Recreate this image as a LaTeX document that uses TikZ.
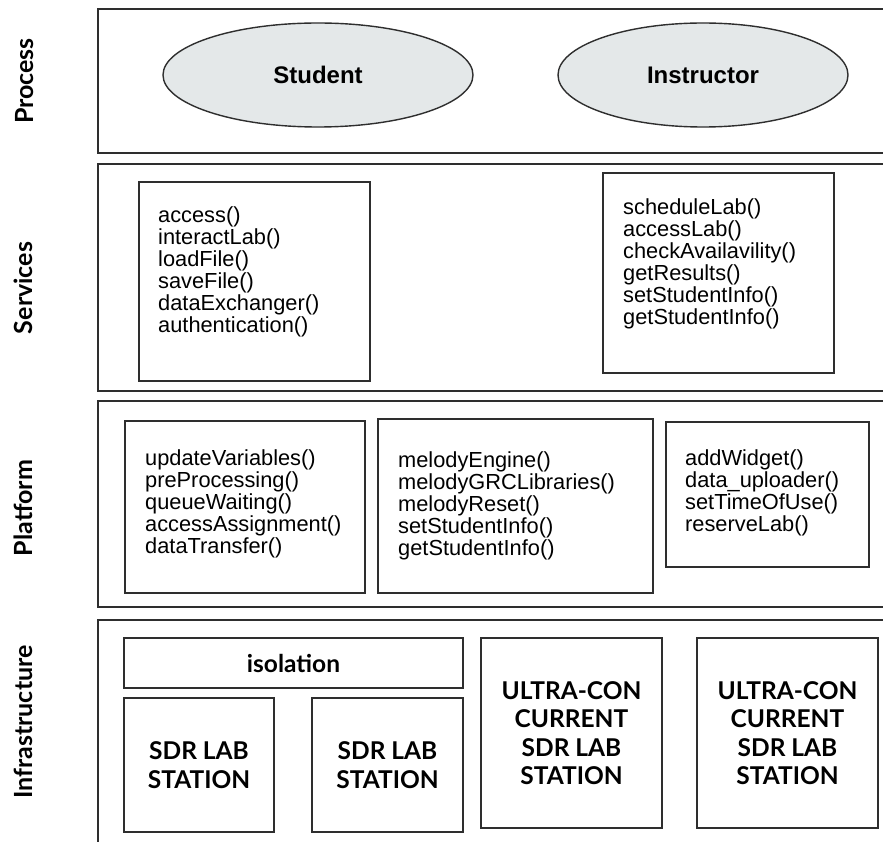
\documentclass[tikz,border=0pt]{standalone}
\usepackage{fontspec}
\setmainfont{Liberation Sans}
\newfontfamily\latofont{Lato}
\usetikzlibrary{shapes.geometric}
\definecolor{edge}{HTML}{2E2E2E}
\definecolor{actorfill}{HTML}{E4E8E9}
\tikzset{
  panel/.style={draw=edge, line width=1.8pt, inner sep=0pt, anchor=north west},
  box/.style={draw=edge, line width=1.6pt, inner sep=0pt, anchor=north west},
  actor/.style={ellipse, draw=edge, line width=1.4pt, fill=actorfill, inner sep=0pt,
    font=\fontsize{24}{26}\selectfont\bfseries},
  methods/.style={anchor=north west, inner sep=0pt, align=left,
    font=\fontsize{21.8}{22}\selectfont},
  layer/.style={rotate=90, anchor=base, inner sep=0pt,
    font=\latofont\fontsize{25}{28}\selectfont\bfseries},
  station/.style={draw=edge, line width=1.6pt, inner sep=0pt, align=center,
    font=\latofont\fontsize{24.5}{28.5}\selectfont\bfseries},
}
\begin{document}
\begin{tikzpicture}[x=1pt, y=-1pt]
\useasboundingbox (0,0) rectangle (883,842);
\fill[white] (0,0) rectangle (883,842);

% layer panels (open to the right and bottom)
\node[panel, minimum width=803, minimum height=144] (processPanel) at (97,8) {};
\node[panel, minimum width=803, minimum height=227] (servicesPanel) at (97,163) {};
\node[panel, minimum width=803, minimum height=206] (platformPanel) at (97,400) {};
\node[panel, minimum width=803, minimum height=250] (infraPanel) at (97,619) {};

% layer names
\node[layer] (processLabel) at (33,81) {Process};
\node[layer] (servicesLabel) at (32,288) {Services};
\node[layer] (platformLabel) at (32,508) {Platform};
\node[layer] (infraLabel) at (32,722) {Infrastructure};

% process layer
\node[actor, minimum width=310, minimum height=104] (student) at (318,75) {Student};
\node[actor, minimum width=290, minimum height=104] (instructor) at (703,75) {Instructor};

% services layer
\node[box, minimum width=231, minimum height=199] (studentSvc) at (138,181) {};
\node[methods] (studentSvcText) at (158,206.3)
  {access()\\interactLab()\\loadFile()\\saveFile()\\dataExchanger()\\authentication()};
\node[box, minimum width=231, minimum height=200] (instructorSvc) at (602,172) {};
\node[methods] (instructorSvcText) at (623,198.3)
  {scheduleLab()\\accessLab()\\checkAvailavility()\\getResults()\\setStudentInfo()\\getStudentInfo()};

% platform layer
\node[box, minimum width=240, minimum height=172] (queueBox) at (124,420) {};
\node[methods] (queueText) at (145,449.3)
  {updateVariables()\\preProcessing()\\queueWaiting()\\accessAssignment()\\dataTransfer()};
\node[box, minimum width=275, minimum height=174] (melodyBox) at (377,418) {};
\node[methods] (melodyText) at (398,451.3)
  {melodyEngine()\\melodyGRCLibraries()\\melodyReset()\\setStudentInfo()\\getStudentInfo()};
\node[box, minimum width=203, minimum height=145] (widgetBox) at (665,421) {};
\node[methods] (widgetText) at (685,449.3)
  {addWidget()\\data\_uploader()\\setTimeOfUse()\\reserveLab()};

% infrastructure layer
\node[station, minimum width=339, minimum height=50] (isolation) at (293.5,663) {isolation};
\node[station, minimum width=150, minimum height=134] (sdrA) at (199,765) {SDR LAB\\STATION};
\node[station, minimum width=151, minimum height=134] (sdrB) at (387.5,765) {SDR LAB\\STATION};
\node[station, minimum width=181, minimum height=190] (ultraA) at (571.5,733)
  {ULTRA-CON\\CURRENT\\SDR LAB\\STATION};
\node[station, minimum width=181, minimum height=190] (ultraB) at (787.5,733)
  {ULTRA-CON\\CURRENT\\SDR LAB\\STATION};
\end{tikzpicture}
\end{document}
